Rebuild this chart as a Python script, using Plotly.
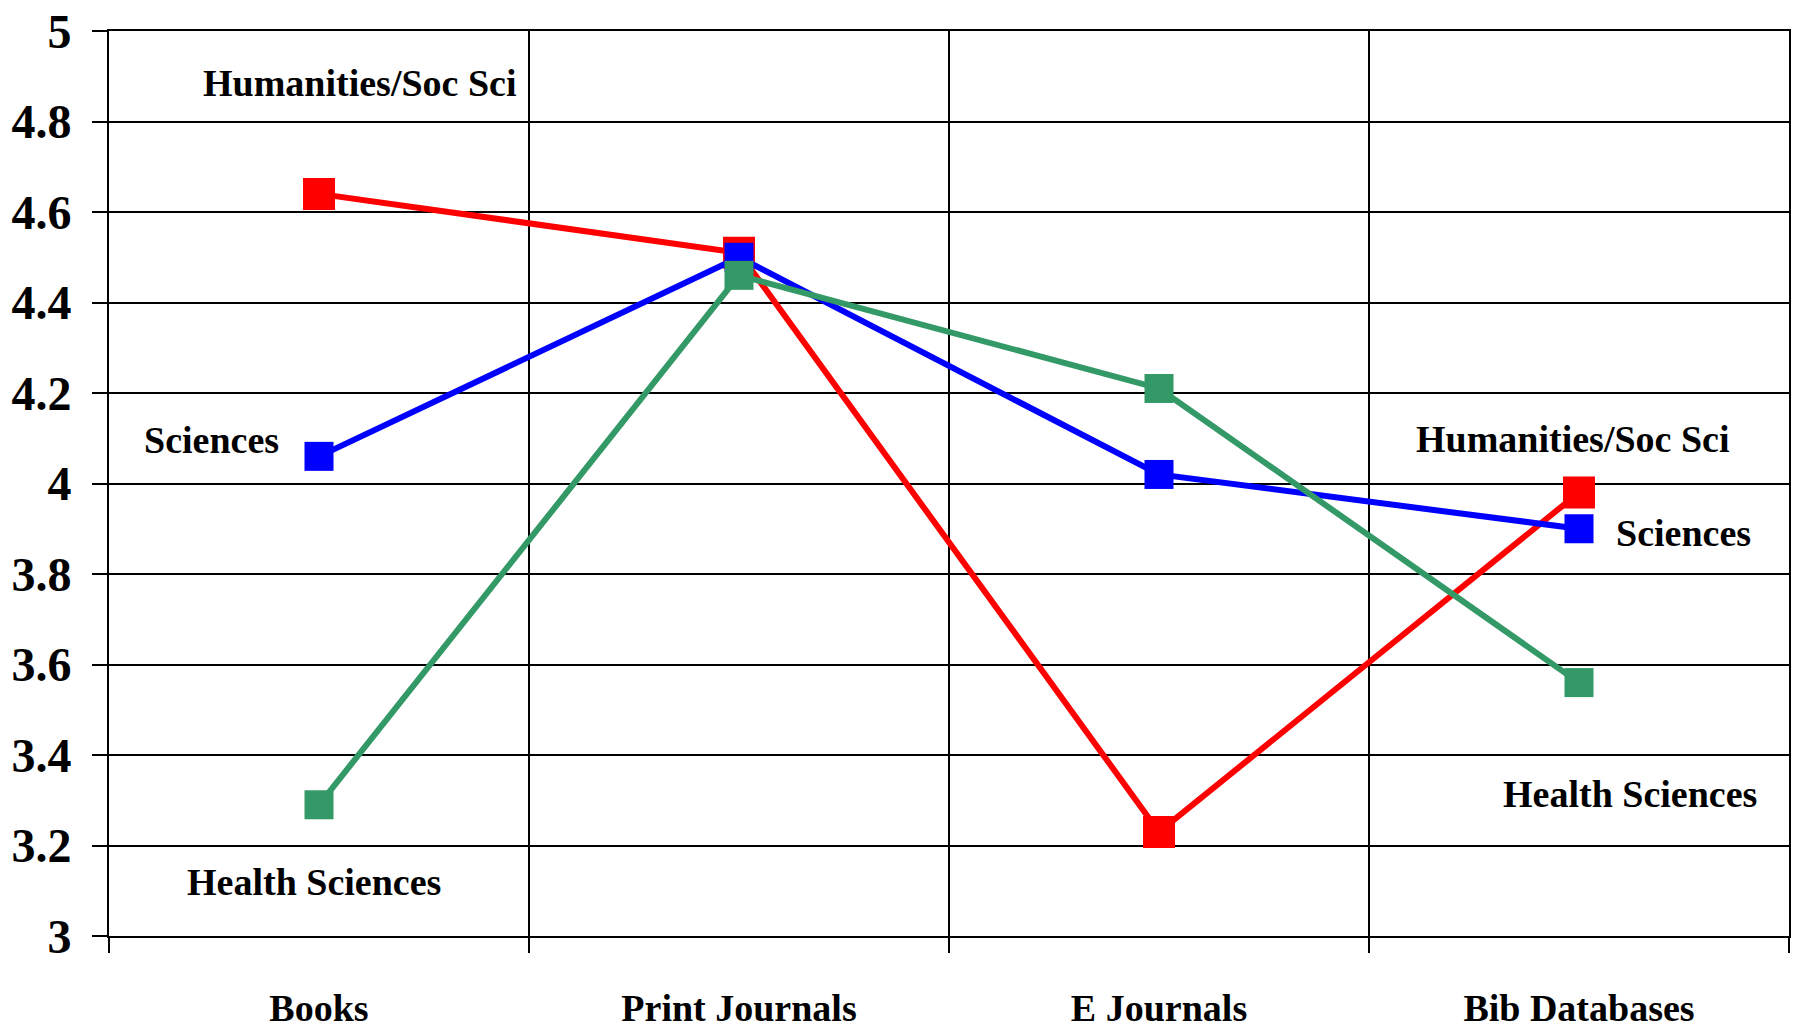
import plotly.graph_objects as go

categories = ["Books", "Print Journals", "E Journals", "Bib Databases"]
humanities = [4.64, 4.51, 3.23, 3.98]
sciences = [4.06, 4.50, 4.02, 3.90]
health = [3.29, 4.46, 4.21, 3.56]
y_ticks = [3, 3.2, 3.4, 3.6, 3.8, 4, 4.2, 4.4, 4.6, 4.8, 5]
y_tick_text = ["3", "3.2", "3.4", "3.6", "3.8", "4", "4.2", "4.4", "4.6", "4.8", "5"]

FONT = "Liberation Serif, Times New Roman, serif"

fig = go.Figure()
series = [
    ("Humanities/Soc Sci", humanities, "#FF0000", 32),
    ("Sciences", sciences, "#0000FF", 29),
    ("Health Sciences", health, "#339966", 29),
]
for name, vals, col, ms in series:
    fig.add_trace(go.Scatter(
        x=categories, y=vals, name=name, mode="lines+markers",
        line=dict(color=col, width=6),
        marker=dict(symbol="square", size=ms, color=col),
        showlegend=False,
    ))

labels = [
    ("Humanities/Soc Sci", 0.097, 4.886),
    ("Sciences", -0.257, 4.096),
    ("Health Sciences", -0.012, 3.12),
    ("Humanities/Soc Sci", 2.985, 4.099),
    ("Sciences", 3.249, 3.891),
    ("Health Sciences", 3.121, 3.314),
]
for txt, x, y in labels:
    fig.add_annotation(x=x, y=y, xref="x", yref="y", text=txt, showarrow=False,
                       font=dict(family=FONT, size=38, color="black", weight="bold"))

fig.update_xaxes(
    type="category", range=[-0.5, 3.5], tickson="boundaries",
    showgrid=True, gridcolor="black", gridwidth=2,
    showline=True, linecolor="black", linewidth=2, mirror=True,
    ticks="outside", ticklen=15, tickwidth=2, tickcolor="black",
    tickfont=dict(family=FONT, size=38, color="black", weight="bold"),
    ticklabelstandoff=37, automargin=False,
)
fig.update_yaxes(
    range=[3, 5], tickvals=y_ticks, ticktext=y_tick_text,
    showgrid=True, gridcolor="black", gridwidth=2,
    showline=True, linecolor="black", linewidth=2, mirror=True,
    ticks="outside", ticklen=15, tickwidth=2, tickcolor="black",
    tickfont=dict(family=FONT, size=48, color="black", weight="bold"),
    ticklabelstandoff=11, zeroline=False, automargin=False,
)
fig.update_layout(
    width=1796, height=1033,
    margin=dict(l=109, r=7, t=31, b=97),
    plot_bgcolor="white", paper_bgcolor="white",
)
fig.write_html("out.html", config={"displayModeBar": False},
               post_script="document.body.style.margin='0';")
